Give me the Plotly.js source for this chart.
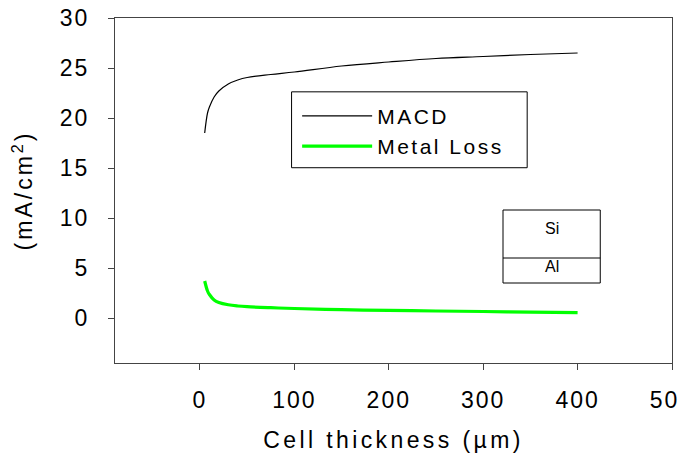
<!DOCTYPE html>
<html>
<head>
<meta charset="utf-8">
<script src="https://cdn.plot.ly/plotly-3.0.1.min.js"></script>
<style>
  html, body { margin: 0; padding: 0; background: #fff; }
  #chart { width: 678px; height: 462px; }
  .xtick text, .ytick text { letter-spacing: 2px; }
  .g-xtitle text { letter-spacing: 3.4px; }
  .g-ytitle text { letter-spacing: 3px; }
  .legendtext { letter-spacing: 2.5px; }
</style>
</head>
<body>
<div id="chart"></div>
<script>
// Cell thickness (µm)
const thickness = [5, 8, 10, 15, 20, 30, 40, 50, 75, 100, 150, 200, 250, 300, 350, 400];
// MACD current density (mA/cm²)
const macd = [18.5, 20.5, 21.1, 22.1, 22.7, 23.4, 23.8, 24.05, 24.35, 24.6, 25.2, 25.6, 25.95, 26.15, 26.35, 26.5];
// Metal loss current density (mA/cm²)
const metalLoss = [3.7, 2.7, 2.35, 1.8, 1.55, 1.32, 1.2, 1.13, 1.03, 0.95, 0.83, 0.76, 0.7, 0.65, 0.59, 0.53];
const seriesNames = ['MACD', 'Metal Loss'];
const xTicks = [0, 100, 200, 300, 400, 500];
const yTicks = [0, 5, 10, 15, 20, 25, 30];
const insetLabels = ['Si', 'Al'];

const FONT = 'Liberation Sans, Arial, sans-serif';

const traces = [
  { x: thickness, y: macd, name: seriesNames[0], mode: 'lines', line: { color: '#000000', width: 1.2, shape: 'spline' } },
  { x: thickness, y: metalLoss, name: seriesNames[1], mode: 'lines', line: { color: '#00ff00', width: 3.2, shape: 'spline' } }
];

const axisCommon = {
  showgrid: false, zeroline: false, showline: true, linecolor: '#444', linewidth: 1,
  mirror: true, ticks: 'outside', ticklen: 6, tickcolor: '#444', tickwidth: 1,
  ticklabeloverflow: 'allow',
  tickfont: { family: FONT, size: 23, color: '#000' }
};

const layout = {
  width: 678, height: 462,
  margin: { l: 115, r: 6, t: 18, b: 99 },
  paper_bgcolor: '#fff', plot_bgcolor: '#fff',
  showlegend: true,
  legend: {
    x: 0.327, y: 0.775, xanchor: 'left', yanchor: 'top',
    bgcolor: 'rgba(0,0,0,0)', borderwidth: 0,
    font: { family: FONT, size: 21, color: '#000' },
    itemwidth: 70, tracegroupgap: 0
  },
  xaxis: Object.assign({}, axisCommon, {
    range: [-90, 500], tickmode: 'array', tickvals: xTicks, ticktext: xTicks.map(String),
    ticklabelstandoff: 10,
    title: { text: 'Cell thickness (\u00b5m)', font: { family: FONT, size: 23, color: '#000' }, standoff: 20 }
  }),
  yaxis: Object.assign({}, axisCommon, {
    range: [-4.5, 30], tickmode: 'array', tickvals: yTicks, ticktext: yTicks.map(String),
    ticklabelstandoff: 14,
    title: { text: '(mA/cm<sup>2</sup>)', font: { family: FONT, size: 23, color: '#000' }, standoff: 20 }
  }),
  shapes: [
    // legend frame
    { type: 'rect', xref: 'paper', yref: 'paper', x0: 0.317, x1: 0.74, y0: 0.566, y1: 0.786,
      line: { color: '#000', width: 1 }, fillcolor: 'rgba(0,0,0,0)', layer: 'below' },
    // Si / Al inset
    { type: 'rect', xref: 'x', yref: 'y', x0: 321, x1: 424, y0: 3.5, y1: 10.8, line: { color: '#000', width: 1 } },
    { type: 'line', xref: 'x', yref: 'y', x0: 321, x1: 424, y0: 6.0, y1: 6.0, line: { color: '#000', width: 1 } }
  ],
  annotations: [
    { xref: 'x', yref: 'y', x: 372.5, y: 9.0, text: insetLabels[0], showarrow: false, font: { family: FONT, size: 16, color: '#000' } },
    { xref: 'x', yref: 'y', x: 372.5, y: 5.2, text: insetLabels[1], showarrow: false, font: { family: FONT, size: 16, color: '#000' } }
  ]
};

Plotly.newPlot('chart', traces, layout, { staticPlot: true, displayModeBar: false });
</script>
</body>
</html>
